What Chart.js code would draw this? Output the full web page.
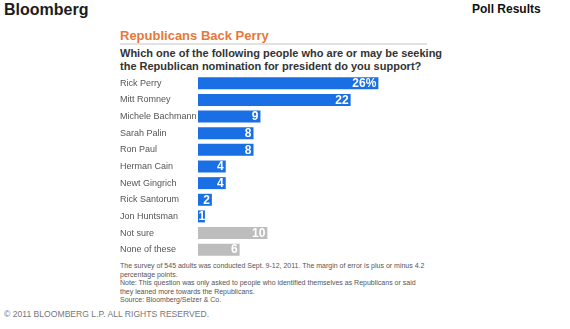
<!DOCTYPE html>
<html>
<head>
<meta charset="utf-8">
<title>Poll Results</title>
<script src="https://cdn.jsdelivr.net/npm/chart.js@4"></script>
<style>
    body {
        margin: 0;
        width: 570px;
        height: 329px;
        background: #fff;
        font-family: Arial, "Liberation Sans", sans-serif;
        position: relative;
        overflow: hidden;
    }
    .abs { position: absolute; white-space: nowrap; }
    #logo { left: 4px; top: 1px; font-size: 16px; font-weight: bold; color: #1c1c1c; }
    #section { left: 472px; top: 2px; font-size: 12px; font-weight: bold; color: #111; }
    #title { left: 120px; top: 28px; font-size: 13px; font-weight: bold; color: #e8783a; }
    #rule { left: 120px; top: 43px; width: 307px; height: 2px; background: #e2e2e2; }
    #question { left: 120px; top: 47px; font-size: 11px; line-height: 12.5px; font-weight: bold; color: #333; }
    #chartBox { left: 120px; top: 75px; line-height: 0; }
    #notes { left: 120px; top: 262px; font-size: 7px; line-height: 8.5px; color: #555; }
    #copy { left: 4px; top: 309px; font-size: 8.6px; color: #777; }
</style>
</head>
<body>
<div class="abs" id="logo">Bloomberg</div>
<div class="abs" id="section">Poll Results</div>
<div class="abs" id="title">Republicans Back Perry</div>
<div class="abs" id="rule"></div>
<div class="abs" id="question">Which one of the following people who are or may be seeking<br>the Republican nomination for president do you support?</div>
<div class="abs" id="chartBox"><canvas id="pollChart" width="300" height="183"></canvas></div>
<div class="abs" id="notes">The survey of 545 adults was conducted Sept. 9-12, 2011. The margin of error is plus or minus 4.2<br>percentage points.<br>Note: This question was only asked to people who identified themselves as Republicans or said<br>they leaned more towards the Republicans.<br>Source: Bloomberg/Selzer &amp; Co.</div>
<div class="abs" id="copy">© 2011 BLOOMBERG L.P. ALL RIGHTS RESERVED.</div>

<script>
// poll answers, percent support
const answers = ["Rick Perry", "Mitt Romney", "Michele Bachmann", "Sarah Palin", "Ron Paul",
    "Herman Cain", "Newt Gingrich", "Rick Santorum", "Jon Huntsman", "Not sure", "None of these"];
const support = [26, 22, 9, 8, 8, 4, 4, 2, 1, 10, 6];
const nonCandidates = ["Not sure", "None of these"];

const blue = "#1b6fe4";
const grey = "#bdbdbd";

// white value text at the end of each bar, first one gets a % sign
const barValues = {
    id: "barValues",
    afterDatasetsDraw(chart) {
        const ctx = chart.ctx;
        const meta = chart.getDatasetMeta(0);
        ctx.save();
        ctx.fillStyle = "#fff";
        ctx.font = "bold 12px Arial, 'Liberation Sans', sans-serif";
        ctx.textAlign = "right";
        ctx.textBaseline = "middle";
        meta.data.forEach((bar, i) => {
            const label = support[i] + (i === 0 ? "%" : "");
            const w = ctx.measureText(label).width;
            // keep short labels inside tiny bars
            const x = Math.max(bar.x - 2, bar.base + w + 0.5);
            ctx.fillText(label, x, bar.y + 0.5);
        });
        ctx.restore();
    }
};

new Chart(document.getElementById("pollChart"), {
    type: "bar",
    data: {
        labels: answers,
        datasets: [{
            data: support,
            backgroundColor: answers.map(a => nonCandidates.includes(a) ? grey : blue),
            barPercentage: 0.72,
            categoryPercentage: 1
        }]
    },
    options: {
        indexAxis: "y",
        responsive: false,
        animation: false,
        devicePixelRatio: 1,
        layout: { padding: 0 },
        plugins: {
            legend: { display: false },
            tooltip: { enabled: false }
        },
        scales: {
            x: { display: false, min: 0, max: 32 },
            y: {
                grid: { display: false },
                border: { display: false },
                afterFit(scale) {
                    scale.width = 78;
                    // rows fill the whole canvas height
                    scale.paddingTop = 0;
                    scale.paddingBottom = 0;
                },
                ticks: {
                    crossAlign: "far",
                    autoSkip: false,
                    padding: 0,
                    color: "#555",
                    font: { family: "Arial, 'Liberation Sans', sans-serif", size: 9 }
                }
            }
        }
    },
    plugins: [barValues]
});
</script>
</body>
</html>
